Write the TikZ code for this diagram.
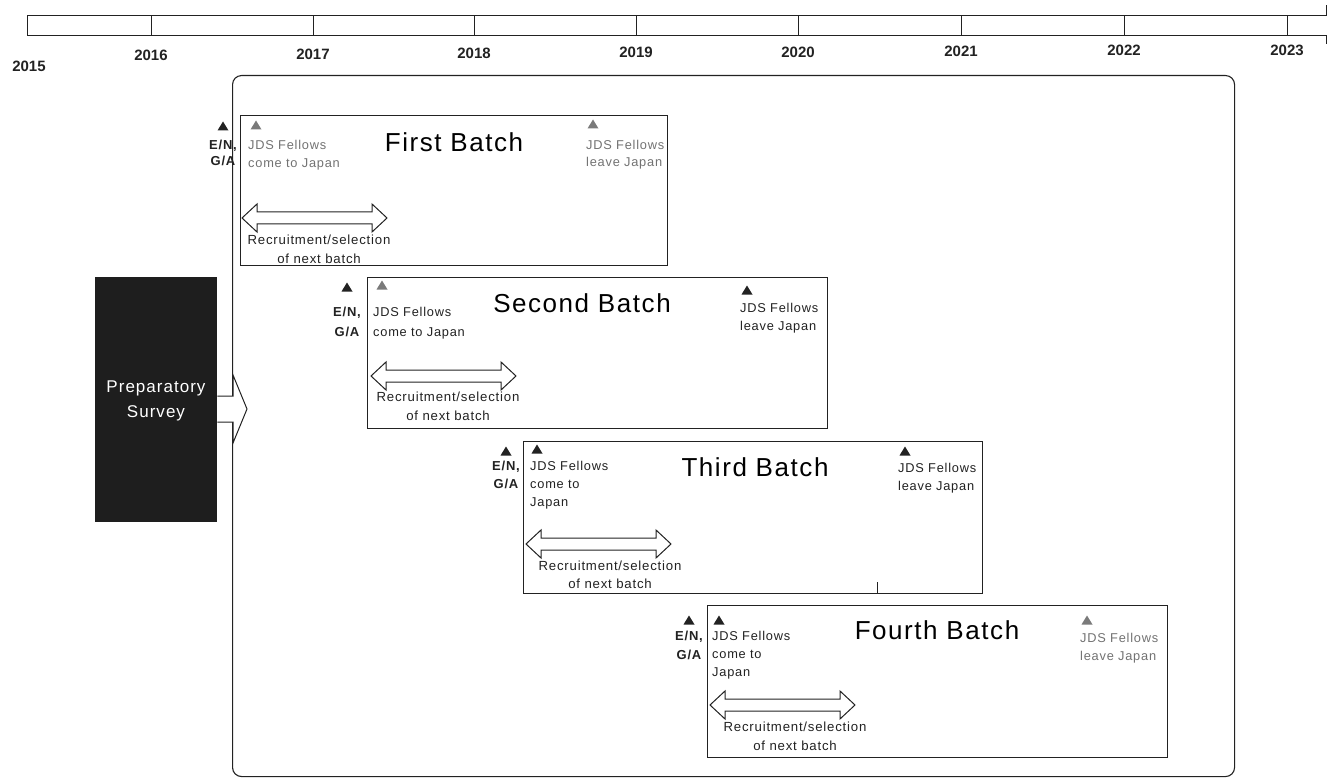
\documentclass[tikz,border=0pt]{standalone}
\usepackage{fontspec}
\setmainfont{Liberation Sans}
\newfontfamily\jf[LetterSpace=6]{Liberation Sans}
\definecolor{ink}{HTML}{222222}
\definecolor{gtext}{HTML}{727272}
\definecolor{gtri}{HTML}{7A7A7A}
\definecolor{prepfill}{HTML}{1E1E1E}
\tikzset{
 line/.style={draw=ink, line width=1pt},
 batchbox/.style={draw=ink, line width=1pt, anchor=north west, inner sep=0pt},
 titletxt/.style={font=\jf\fontsize{26}{30}\selectfont, inner sep=0pt},
 small/.style={font=\jf\fontsize{12.8}{14}\selectfont, inner sep=0pt, anchor=west, text height=9pt, text depth=2.5pt, text=ink},
 smallg/.style={small, text=gtext},
 rec/.style={font=\jf\fontsize{13.2}{14}\selectfont, inner sep=0pt, text height=9.4pt, text depth=2.6pt, text=ink},
 en/.style={font=\jf\bfseries\fontsize{13}{14}\selectfont, inner sep=0pt, text height=9.2pt, text depth=2.5pt, text=ink},
 year/.style={font=\bfseries\fontsize{15}{16}\selectfont, inner sep=0pt, text=ink},
}
\newcommand\mytri[3]{\fill[#1] ({#2-5.5},{#3+4.5}) -- ({#2+5.5},{#3+4.5}) -- (#2,{#3-4.5}) -- cycle;}
\newcommand\dblarr[3]{\draw[line, fill=white] (#1,#3) -- ({#1+15},{#3-14}) -- ({#1+15},{#3-6}) -- ({#2-15},{#3-6}) -- ({#2-15},{#3-14}) -- (#2,#3) -- ({#2-15},{#3+14}) -- ({#2-15},{#3+6}) -- ({#1+15},{#3+6}) -- ({#1+15},{#3+14}) -- cycle;}
\begin{document}
\begin{tikzpicture}[x=1pt,y=-1pt]
\useasboundingbox (0,0) rectangle (1328,778);
% timeline
\draw[line] (27,16) -- (1326,16) -- (1326,5);
\draw[line] (27,36) -- (1326,36) -- (1326,44);
\draw[line] (27,16) -- (27,36);
\foreach \x in {151,313,474,636,798,961,1124,1287} \draw[line] (\x,16) -- (\x,36);
\node[year] (y15) at (29,66) {2015};
\node[year] (y16) at (151,55) {2016};
\node[year] (y17) at (313,54) {2017};
\node[year] (y18) at (474,53) {2018};
\node[year] (y19) at (636,52) {2019};
\node[year] (y20) at (798,52) {2020};
\node[year] (y21) at (961,51) {2021};
\node[year] (y22) at (1124,50) {2022};
\node[year] (y23) at (1287,50) {2023};
% frame
\node[draw=ink, line width=1.1pt, rounded corners=9pt, anchor=north west, minimum width=1002pt, minimum height=701pt, inner sep=0pt] (frame) at (232,75) {};
% preparatory survey
\node[fill=prepfill, anchor=north west, minimum width=122pt, minimum height=245pt, inner sep=0pt] (prep) at (95,277) {};
\node[text=white, align=center, font=\jf\fontsize{17}{25}\selectfont] (preptxt) at (156,401) {Preparatory\\Survey};
\draw[line, fill=white] (prep.east |- 0,396) -- (233,396) -- (233,375) -- (247,409) -- (233,443) -- (233,422) -- (prep.east |- 0,422);
% ---- First batch
\node[batchbox, minimum width=427pt, minimum height=150pt] (b1) at (240,115) {};
\mytri{ink}{223}{126}
\node[en] (b1en) at (223,146) {E/N,};
\node[en] (b1ga) at (223,162) {G/A};
\mytri{gtri}{256}{125}
\node[smallg] (b1c1) at (248,146) {JDS Fellows};
\node[smallg] (b1c2) at (248,164) {come to Japan};
\node[titletxt] (b1t) at (454,142) {First Batch};
\mytri{gtri}{593}{124}
\node[smallg] (b1l1) at (586,146) {JDS Fellows};
\node[smallg] (b1l2) at (586,163) {leave Japan};
\dblarr{242}{387}{218}
\node[rec] (b1r1) at (319,241) {Recruitment/selection};
\node[rec] (b1r2) at (319,260) {of next batch};
% ---- Second batch
\node[batchbox, minimum width=460pt, minimum height=151pt] (b2) at (367,277) {};
\mytri{ink}{347}{287}
\node[en] (b2en) at (347,313) {E/N,};
\node[en] (b2ga) at (347,333) {G/A};
\mytri{gtri}{382}{285}
\node[small] (b2c1) at (373,313) {JDS Fellows};
\node[small] (b2c2) at (373,333) {come to Japan};
\node[titletxt] (b2t) at (582,303) {Second Batch};
\mytri{ink}{747}{290}
\node[small] (b2l1) at (740,309) {JDS Fellows};
\node[small] (b2l2) at (740,327) {leave Japan};
\dblarr{371}{516}{376}
\node[rec] (b2r1) at (448,398) {Recruitment/selection};
\node[rec] (b2r2) at (448,417) {of next batch};
% ---- Third batch
\node[batchbox, minimum width=459pt, minimum height=152pt] (b3) at (523,441) {};
\mytri{ink}{506}{451}
\node[en] (b3en) at (506,467) {E/N,};
\node[en] (b3ga) at (506,485) {G/A};
\mytri{ink}{537}{449}
\node[small] (b3c1) at (530,467) {JDS Fellows};
\node[small] (b3c2) at (530,485) {come to};
\node[small] (b3c3) at (530,503) {Japan};
\node[titletxt] (b3t) at (755,467) {Third Batch};
\mytri{ink}{905}{451}
\node[small] (b3l1) at (898,469) {JDS Fellows};
\node[small] (b3l2) at (898,487) {leave Japan};
\dblarr{526}{671}{544}
\node[rec] (b3r1) at (610,567) {Recruitment/selection};
\node[rec] (b3r2) at (610,585) {of next batch};
\draw[line] (877,582) -- (877,593);
% ---- Fourth batch
\node[batchbox, minimum width=460pt, minimum height=152pt] (b4) at (707,605) {};
\mytri{ink}{689}{620}
\node[en] (b4en) at (689,637) {E/N,};
\node[en] (b4ga) at (689,656) {G/A};
\mytri{ink}{719}{620}
\node[small] (b4c1) at (712,637) {JDS Fellows};
\node[small] (b4c2) at (712,655) {come to};
\node[small] (b4c3) at (712,673) {Japan};
\node[titletxt] (b4t) at (937,630) {Fourth Batch};
\mytri{gtri}{1087}{620}
\node[smallg] (b4l1) at (1080,639) {JDS Fellows};
\node[smallg] (b4l2) at (1080,657) {leave Japan};
\dblarr{710}{855}{705}
\node[rec] (b4r1) at (795,728) {Recruitment/selection};
\node[rec] (b4r2) at (795,747) {of next batch};
\end{tikzpicture}
\end{document}
